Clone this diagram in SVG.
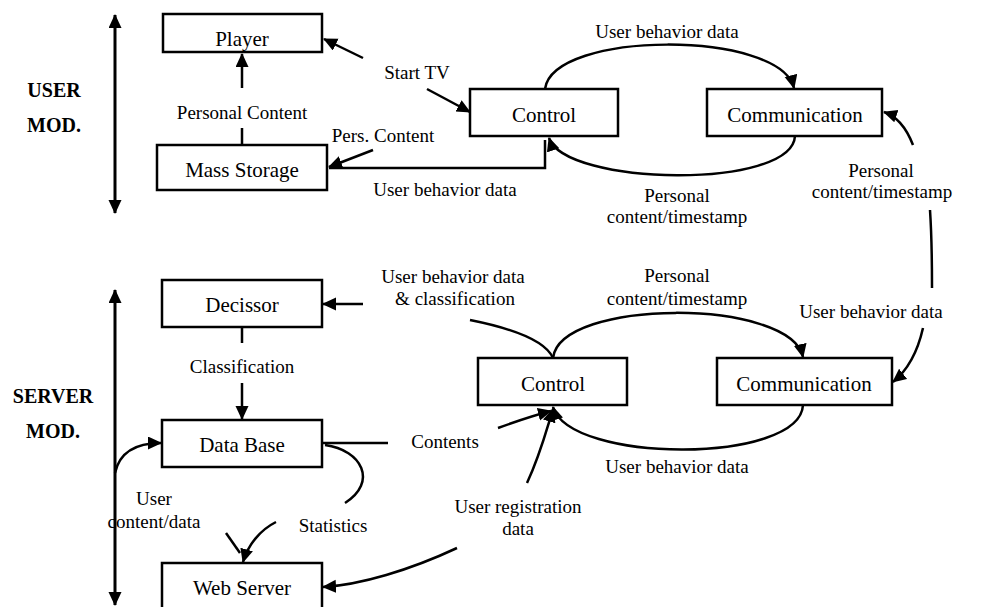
<svg xmlns="http://www.w3.org/2000/svg" width="1003" height="607" viewBox="0 0 1003 607">
  <style>
    .box { fill: #fff; stroke: #000; stroke-width: 2.5; }
    .bt { font-family: "Liberation Serif", "Times New Roman", serif; font-size: 21px; text-anchor: middle; fill: #000; }
    .lb { font-family: "Liberation Serif", "Times New Roman", serif; font-size: 19px; text-anchor: middle; fill: #000; }
    .side { font-family: "Liberation Serif", "Times New Roman", serif; font-size: 20px; font-weight: bold; text-anchor: middle; fill: #000; }
    .ln { fill: none; stroke: #000; stroke-width: 2.5; }
    .arr { fill: none; stroke: #000; stroke-width: 2.5; marker-end: url(#ah); }
    .axis { fill: none; stroke: #000; stroke-width: 3; marker-start: url(#ah); marker-end: url(#ah); }
  </style>
  <defs>
    <marker id="ah" markerUnits="userSpaceOnUse" markerWidth="16" markerHeight="14" refX="13" refY="6.5" orient="auto-start-reverse">
      <path d="M0,0 L14,6.5 L0,13 z" fill="#000"/>
    </marker>
  </defs>
  <rect width="1003" height="607" fill="#fff"/>

  <!-- side axes and module titles -->
  <g id="user-module">
    <path class="axis" d="M115,15 L115,213"/>
    <text class="side" x="54" y="97">USER</text>
    <text class="side" x="54" y="132">MOD.</text>
  </g>
  <g id="server-module">
    <path class="axis" d="M115,290 L115,605"/>
    <text class="side" x="53" y="403">SERVER</text>
    <text class="side" x="53" y="438">MOD.</text>
  </g>

  <!-- user module nodes -->
  <g id="player">
    <rect class="box" x="163" y="14" width="159" height="38"/>
    <text class="bt" x="242" y="46">Player</text>
  </g>
  <g id="mass-storage">
    <rect class="box" x="157" y="145" width="170" height="45"/>
    <text class="bt" x="242" y="177">Mass Storage</text>
  </g>
  <g id="control-user">
    <rect class="box" x="470" y="89" width="148" height="47"/>
    <text class="bt" x="544" y="122">Control</text>
  </g>
  <g id="communication-user">
    <rect class="box" x="707" y="89" width="175" height="47"/>
    <text class="bt" x="795" y="122">Communication</text>
  </g>

  <!-- server module nodes -->
  <g id="decissor">
    <rect class="box" x="162" y="280" width="160" height="47"/>
    <text class="bt" x="242" y="312">Decissor</text>
  </g>
  <g id="data-base">
    <rect class="box" x="162" y="420" width="160" height="47"/>
    <text class="bt" x="242" y="452">Data Base</text>
  </g>
  <g id="web-server">
    <rect class="box" x="162" y="563" width="160" height="60"/>
    <text class="bt" x="242" y="595">Web Server</text>
  </g>
  <g id="control-server">
    <rect class="box" x="478" y="358" width="149" height="47"/>
    <text class="bt" x="553" y="391">Control</text>
  </g>
  <g id="communication-server">
    <rect class="box" x="717" y="358" width="175" height="47"/>
    <text class="bt" x="804" y="391">Communication</text>
  </g>

  <!-- connectors -->
  <g id="connectors">
    <!-- user module -->
    <path class="arr" d="M242,145 L242,128 M242,88 L242,54"/>
    <path class="arr" d="M363,58 L324,39"/>
    <path class="arr" d="M427,89 L470,112"/>
    <path class="arr" d="M373,150 L329,167"/>
    <path class="ln" d="M329,168 L545,168 L545,140"/>
    <path class="arr" d="M545,89 C553,30 780,30 794,88"/>
    <path class="arr" d="M795,136 C792,190 565,186 549,138"/>
    <path class="arr" d="M913,145 C906,127 896,116 884,112"/>
    <path class="ln" d="M930,210 C932,240 932,265 932,288"/>
    <path class="arr" d="M923,328 C918,350 908,370 893,382"/>

    <!-- server module -->
    <path class="arr" d="M363,304 L323,304"/>
    <path class="arr" d="M242,327 L242,343 M242,383 L242,419"/>
    <path class="ln" d="M470,320 C510,328 545,340 553,358"/>
    <path class="arr" d="M553,358 C560,298 790,298 803,357"/>
    <path class="arr" d="M803,405 C800,464 570,464 553,407"/>
    <path class="ln" d="M322,443 L388,443"/>
    <path class="arr" d="M498,428 C520,420 535,415 551,411"/>
    <path class="ln" d="M325,445 C362,450 378,482 345,503"/>
    <path class="arr" d="M276,522 C260,530 248,545 243,562"/>
    <path class="ln" d="M226,533 L240,553"/>
    <path class="arr" d="M115,473 C120,450 140,443 161,443"/>
    <path class="arr" d="M527,483 C540,455 545,435 553,409"/>
    <path class="arr" d="M457,548 C410,570 360,585 323,587"/>
  </g>

  <!-- connector labels -->
  <g id="labels">
    <text class="lb" x="417" y="79">Start TV</text>
    <text class="lb" x="242" y="119">Personal Content</text>
    <text class="lb" x="383" y="142">Pers. Content</text>
    <text class="lb" x="445" y="196">User behavior data</text>
    <text class="lb" x="667" y="38">User behavior data</text>
    <text class="lb" x="677" y="202">Personal</text>
    <text class="lb" x="677" y="223">content/timestamp</text>
    <text class="lb" x="881" y="177">Personal</text>
    <text class="lb" x="882" y="198">content/timestamp</text>

    <text class="lb" x="453" y="283">User behavior data</text>
    <text class="lb" x="455" y="305">&amp; classification</text>
    <text class="lb" x="242" y="373">Classification</text>
    <text class="lb" x="677" y="282">Personal</text>
    <text class="lb" x="677" y="305">content/timestamp</text>
    <text class="lb" x="871" y="318">User behavior data</text>
    <text class="lb" x="445" y="448">Contents</text>
    <text class="lb" x="677" y="473">User behavior data</text>
    <text class="lb" x="154" y="505">User</text>
    <text class="lb" x="154" y="528">content/data</text>
    <text class="lb" x="333" y="532">Statistics</text>
    <text class="lb" x="518" y="513">User registration</text>
    <text class="lb" x="518" y="535">data</text>
  </g>
</svg>
